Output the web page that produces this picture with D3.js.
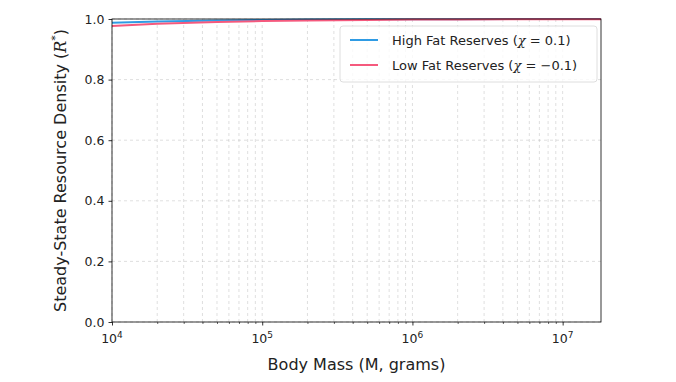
<!DOCTYPE html>
<html><head><meta charset="utf-8">
<script src="https://cdn.jsdelivr.net/npm/d3@7"></script>
<style>body{margin:0;background:#fff;} text{font-family:"DejaVu Sans",sans-serif;}</style>
</head><body>
<svg id="c" width="676" height="382"></svg>
<script>
const bodyMass = [1e4, 2e4, 5e4, 1e5, 2e5, 5e5, 1e6, 2e6, 5e6, 1e7, 1.8e7];
const highFat = [0.988, 0.992, 0.995, 0.997, 0.998, 0.9988, 0.9992, 0.9995, 0.9997, 0.9998, 0.9999];
const lowFat  = [0.977, 0.984, 0.990, 0.993, 0.995, 0.997, 0.998, 0.9985, 0.999, 0.9993, 0.9995];
const yTicks = [0.0, 0.2, 0.4, 0.6, 0.8, 1.0];
const xTicks = [1e4, 1e5, 1e6, 1e7];
const xExps = ["4", "5", "6", "7"];

const L = 112, R = 601, T = 19, B = 322;
const svg = d3.select("#c");
const x = d3.scaleLog().domain([1e4, 1.8e7]).range([L, R]);
const y = d3.scaleLinear().domain([0, 1]).range([B, T]);

const minor = [];
for (let e = 4; e <= 7; e++) for (let m = 2; m <= 9; m++) { const v = m * Math.pow(10, e); if (v <= 1.8e7) minor.push(v); }

const grid = svg.append("g");
minor.concat(xTicks).forEach(v => {
  grid.append("line").attr("x1", x(v)).attr("x2", x(v)).attr("y1", T).attr("y2", B)
    .attr("stroke", "#b0b0b0").attr("stroke-opacity", 0.5).attr("stroke-width", 0.8).attr("stroke-dasharray", "3,3");
});
yTicks.forEach(v => {
  grid.append("line").attr("x1", L).attr("x2", R).attr("y1", y(v)).attr("y2", y(v))
    .attr("stroke", "#b0b0b0").attr("stroke-opacity", 0.5).attr("stroke-width", 0.8).attr("stroke-dasharray", "3,3");
});

const line = d3.line().x((d, i) => x(bodyMass[i])).y(d => y(d));
svg.append("path").datum(highFat).attr("d", line).attr("fill", "none").attr("stroke", "#2f9be4").attr("stroke-width", 2);
svg.append("path").datum(lowFat).attr("d", line).attr("fill", "none").attr("stroke", "#f5597d").attr("stroke-width", 2);

const xAxis = d3.axisBottom(x).tickValues(xTicks).tickSize(3.5).tickFormat("");
const gx = svg.append("g").attr("transform", `translate(0,${B})`).call(xAxis);
gx.select(".domain").remove();
gx.selectAll("line").attr("stroke", "#000").attr("stroke-width", 0.8);
const gxm = svg.append("g").attr("transform", `translate(0,${B})`).call(d3.axisBottom(x).tickValues(minor).tickSize(2).tickFormat(""));
gxm.select(".domain").remove();
gxm.selectAll("line").attr("stroke", "#000").attr("stroke-width", 0.6);

xTicks.forEach((v, i) => {
  const t = svg.append("text").attr("x", x(v)).attr("y", B + 21).attr("text-anchor", "middle")
    .attr("font-size", 12.5).attr("fill", "#222");
  t.append("tspan").text("10");
  t.append("tspan").attr("dy", -5).attr("font-size", 9).text(xExps[i]);
});

const yAxis = d3.axisLeft(y).tickValues(yTicks).tickSize(3.5).tickPadding(4).tickFormat(d3.format(".1f"));
const gy = svg.append("g").attr("transform", `translate(${L},0)`).call(yAxis);
gy.select(".domain").remove();
gy.selectAll("line").attr("stroke", "#000").attr("stroke-width", 0.8);
gy.selectAll("text").attr("font-size", 12.5).attr("fill", "#222").attr("font-family", "DejaVu Sans");

svg.append("rect").attr("x", L).attr("y", T).attr("width", R - L).attr("height", B - T)
  .attr("fill", "none").attr("stroke", "#000").attr("stroke-width", 0.8);

svg.append("text").attr("x", (L + R) / 2).attr("y", 370).attr("text-anchor", "middle")
  .attr("font-size", 16).attr("fill", "#222").text("Body Mass (M, grams)");

const yl = svg.append("text").attr("transform", `translate(66,${(T + B) / 2}) rotate(-90)`)
  .attr("text-anchor", "middle").attr("font-size", 16).attr("fill", "#222");
yl.append("tspan").text("Steady-State Resource Density (");
yl.append("tspan").attr("font-style", "italic").attr("font-family", "DejaVu Serif").text("R");
yl.append("tspan").attr("dy", -7).attr("font-size", 11).text("*");
yl.append("tspan").attr("dy", 7).text(")");

const lg = svg.append("g");
lg.append("rect").attr("x", 340).attr("y", 26).attr("width", 257).attr("height", 56).attr("rx", 3)
  .attr("fill", "#fff").attr("fill-opacity", 0.8).attr("stroke", "#d6d6d6").attr("stroke-width", 0.8);
const entries = [
  {c: "#2f9be4", pre: "High Fat Reserves (", post: "= 0.1)"},
  {c: "#f5597d", pre: "Low Fat Reserves (", post: "= \u22120.1)"}
];
entries.forEach((e, i) => {
  const yy = 40 + i * 25;
  lg.append("line").attr("x1", 350).attr("x2", 378).attr("y1", yy).attr("y2", yy).attr("stroke", e.c).attr("stroke-width", 2);
  const t = lg.append("text").attr("x", 392).attr("y", yy + 4.5).attr("font-size", 13).attr("fill", "#222");
  t.append("tspan").text(e.pre);
  t.append("tspan").attr("font-style", "italic").attr("font-family", "DejaVu Serif").text("\u03c7 ");
  t.append("tspan").text(e.post);
});
</script>
</body></html>
